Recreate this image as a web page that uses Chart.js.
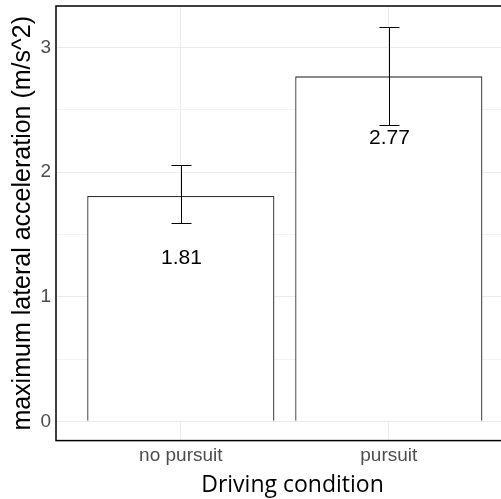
<!DOCTYPE html>
<html>
<head>
<meta charset="utf-8">
<script src="https://cdn.jsdelivr.net/npm/chart.js@4/dist/chart.umd.min.js"></script>
<style>
  html, body { margin: 0; padding: 0; background: #fff; overflow: hidden; }
  #wrap { width: 501px; height: 499px; overflow: hidden; }
</style>
</head>
<body>
<div id="wrap"><canvas id="c" width="529" height="499"></canvas></div>
<script>
// conditions, mean max lateral acceleration and error-bar limits (m/s^2)
const conditions = ["no pursuit", "pursuit"];
const means = [1.81, 2.77];
const errLow = [1.59, 2.38];
const errHigh = [2.06, 3.17];
const yTicks = [0, 0.5, 1, 1.5, 2, 2.5, 3];

const SANS = "'Liberation Sans', Arial, sans-serif";

// error bars, value labels and the panel frame
const extras = {
  id: "extras",
  afterDatasetsDraw(chart) {
    const { ctx, chartArea: a, scales: { x, y } } = chart;
    ctx.save();
    ctx.strokeStyle = "#000";
    ctx.lineWidth = 1;
    means.forEach((m, i) => {
      const px = Math.round(x.getPixelForValue(i + 1)) + 0.5;
      const lo = Math.round(y.getPixelForValue(errLow[i])) + 0.5;
      const hi = Math.round(y.getPixelForValue(errHigh[i])) + 0.5;
      ctx.beginPath();
      ctx.moveTo(px, lo); ctx.lineTo(px, hi);
      ctx.moveTo(px - 10, lo); ctx.lineTo(px + 10, lo);
      ctx.moveTo(px - 10, hi); ctx.lineTo(px + 10, hi);
      ctx.stroke();
      ctx.fillStyle = "#000";
      ctx.font = "21px " + SANS;
      ctx.textAlign = "center";
      ctx.textBaseline = "middle";
      ctx.fillText(m.toFixed(2), px, y.getPixelForValue(m - 0.5));
    });
    ctx.lineWidth = 1.5;
    ctx.strokeRect(a.left, a.top, a.width, a.height);
    ctx.restore();
  }
};

new Chart(document.getElementById("c"), {
  type: "bar",
  data: {
    datasets: [{
      data: conditions.map((c, i) => ({ x: i + 1, y: means[i] })),
      backgroundColor: "#fff",
      borderColor: "#333",
      borderWidth: 1.3,
      categoryPercentage: 0.9,
      barPercentage: 1
    }]
  },
  options: {
    responsive: false,
    animation: false,
    layout: { padding: { top: 6, left: 0, right: 0, bottom: 0 } },
    plugins: { legend: { display: false }, tooltip: { enabled: false } },
    scales: {
      x: {
        type: "linear",
        offset: false,
        min: 0.4, max: 2.674,
        afterBuildTicks: s => { s.ticks = conditions.map((c, i) => ({ value: i + 1 })); },
        afterFit: s => { s.paddingLeft = 0; s.paddingRight = 0; },
        ticks: { callback: v => conditions[v - 1], color: "#4d4d4d", font: { family: SANS, size: 19 }, padding: 4, maxRotation: 0 },
        grid: { color: "#ebebeb", drawTicks: false, offset: false },
        border: { display: false },
        title: { display: true, text: "Driving condition", color: "#000", font: { family: "'Open Sans', sans-serif", size: 23 }, padding: { top: 0, bottom: 0 } }
      },
      y: {
        min: -0.155, max: 3.335,
        afterBuildTicks: s => { s.ticks = yTicks.map(v => ({ value: v })); },
        afterFit: s => { s.width = 56; s.paddingTop = 0; s.paddingBottom = 0; },
        ticks: { callback: v => Number.isInteger(v) ? String(v) : "", color: "#4d4d4d", font: { family: SANS, size: 19 }, padding: 5 },
        grid: { color: c => Number.isInteger(c.tick.value) ? "#ebebeb" : "#f3f3f3", drawTicks: false },
        border: { display: false },
        title: { display: true, text: "maximum lateral acceleration (m/s^2)", color: "#000", font: { family: SANS, size: 25 }, padding: { top: 8, bottom: 0 } }
      }
    }
  },
  plugins: [extras]
});
</script>
</body>
</html>
